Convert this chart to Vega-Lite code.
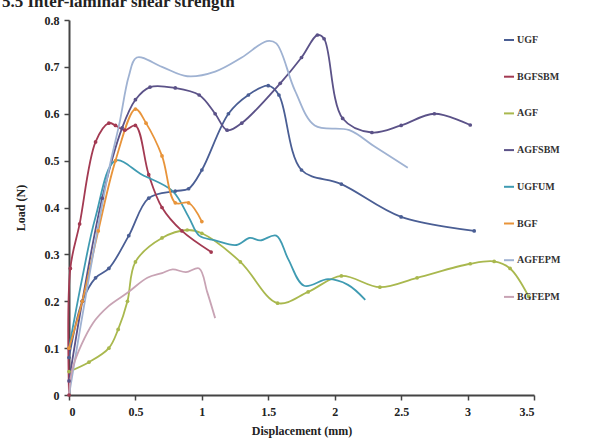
{
  "$schema": "https://vega.github.io/schema/vega-lite/v6.json",
  "width": 465,
  "height": 375,
  "autosize": {"type": "none"},
  "padding": {"left": 69, "top": 20, "right": 80, "bottom": 53},
  "background": "white",
  "title": {"text": "5.5 Inter-laminar shear strength", "anchor": "start", "frame": "group", "dx": -67, "dy": -3, "font": "Liberation Serif", "fontSize": 17, "fontWeight": "bold", "color": "#222", "offset": 0},
  "config": {
    "view": {"stroke": null},
    "font": "Liberation Serif",
    "axis": {"grid": false, "domainColor": "#444", "domainWidth": 2, "tickColor": "#444", "tickWidth": 1.5, "tickSize": 5, "labelFont": "Liberation Serif", "labelFontWeight": "bold", "labelFontSize": 12, "labelColor": "#222", "titleFont": "Liberation Serif", "titleFontWeight": "bold", "titleFontSize": 12, "titleColor": "#222"}
  },
  "data": {"values": [
    {"s":"UGF","x":0,"y":0.08},{"s":"UGF","x":0.1,"y":0.2},{"s":"UGF","x":0.2,"y":0.25},{"s":"UGF","x":0.3,"y":0.27},{"s":"UGF","x":0.45,"y":0.34},{"s":"UGF","x":0.6,"y":0.42},{"s":"UGF","x":0.8,"y":0.435},{"s":"UGF","x":0.9,"y":0.44},{"s":"UGF","x":1.0,"y":0.48},{"s":"UGF","x":1.2,"y":0.6},{"s":"UGF","x":1.35,"y":0.64},{"s":"UGF","x":1.5,"y":0.66},{"s":"UGF","x":1.58,"y":0.64},{"s":"UGF","x":1.75,"y":0.48},{"s":"UGF","x":2.05,"y":0.45},{"s":"UGF","x":2.5,"y":0.38},{"s":"UGF","x":3.05,"y":0.35},
    {"s":"BGFSBM","x":0,"y":0.0},{"s":"BGFSBM","x":0.01,"y":0.27},{"s":"BGFSBM","x":0.08,"y":0.365},{"s":"BGFSBM","x":0.2,"y":0.54},{"s":"BGFSBM","x":0.3,"y":0.58},{"s":"BGFSBM","x":0.35,"y":0.575},{"s":"BGFSBM","x":0.42,"y":0.565},{"s":"BGFSBM","x":0.5,"y":0.575},{"s":"BGFSBM","x":0.6,"y":0.47},{"s":"BGFSBM","x":0.7,"y":0.4},{"s":"BGFSBM","x":0.85,"y":0.35},{"s":"BGFSBM","x":1.07,"y":0.305},
    {"s":"AGF","x":0,"y":0.05},{"s":"AGF","x":0.15,"y":0.07},{"s":"AGF","x":0.3,"y":0.1},{"s":"AGF","x":0.37,"y":0.14},{"s":"AGF","x":0.44,"y":0.2},{"s":"AGF","x":0.5,"y":0.284},{"s":"AGF","x":0.7,"y":0.335},{"s":"AGF","x":0.89,"y":0.352},{"s":"AGF","x":1.0,"y":0.345},{"s":"AGF","x":1.29,"y":0.284},{"s":"AGF","x":1.57,"y":0.196},{"s":"AGF","x":1.8,"y":0.22},{"s":"AGF","x":2.05,"y":0.254},{"s":"AGF","x":2.34,"y":0.23},{"s":"AGF","x":2.62,"y":0.25},{"s":"AGF","x":3.02,"y":0.28},{"s":"AGF","x":3.2,"y":0.285},{"s":"AGF","x":3.32,"y":0.27},{"s":"AGF","x":3.46,"y":0.21},
    {"s":"AGFSBM","x":0,"y":0.03},{"s":"AGFSBM","x":0.1,"y":0.2},{"s":"AGFSBM","x":0.25,"y":0.42},{"s":"AGFSBM","x":0.4,"y":0.57},{"s":"AGFSBM","x":0.5,"y":0.63},{"s":"AGFSBM","x":0.61,"y":0.657},{"s":"AGFSBM","x":0.8,"y":0.655},{"s":"AGFSBM","x":0.98,"y":0.64},{"s":"AGFSBM","x":1.1,"y":0.6},{"s":"AGFSBM","x":1.19,"y":0.565},{"s":"AGFSBM","x":1.3,"y":0.58},{"s":"AGFSBM","x":1.59,"y":0.665},{"s":"AGFSBM","x":1.75,"y":0.72},{"s":"AGFSBM","x":1.87,"y":0.768},{"s":"AGFSBM","x":1.92,"y":0.76},{"s":"AGFSBM","x":2.06,"y":0.59},{"s":"AGFSBM","x":2.28,"y":0.56},{"s":"AGFSBM","x":2.5,"y":0.575},{"s":"AGFSBM","x":2.75,"y":0.6},{"s":"AGFSBM","x":3.02,"y":0.576},
    {"s":"UGFUM","x":0,"y":0.1},{"s":"UGFUM","x":0.1,"y":0.25},{"s":"UGFUM","x":0.2,"y":0.38},{"s":"UGFUM","x":0.35,"y":0.5},{"s":"UGFUM","x":0.55,"y":0.47},{"s":"UGFUM","x":0.78,"y":0.435},{"s":"UGFUM","x":0.9,"y":0.38},{"s":"UGFUM","x":0.98,"y":0.34},{"s":"UGFUM","x":1.1,"y":0.33},{"s":"UGFUM","x":1.26,"y":0.32},{"s":"UGFUM","x":1.36,"y":0.335},{"s":"UGFUM","x":1.44,"y":0.33},{"s":"UGFUM","x":1.56,"y":0.34},{"s":"UGFUM","x":1.65,"y":0.29},{"s":"UGFUM","x":1.77,"y":0.233},{"s":"UGFUM","x":1.95,"y":0.247},{"s":"UGFUM","x":2.1,"y":0.235},{"s":"UGFUM","x":2.23,"y":0.203},
    {"s":"BGF","x":0,"y":0.1},{"s":"BGF","x":0.1,"y":0.2},{"s":"BGF","x":0.22,"y":0.35},{"s":"BGF","x":0.35,"y":0.5},{"s":"BGF","x":0.5,"y":0.61},{"s":"BGF","x":0.58,"y":0.58},{"s":"BGF","x":0.7,"y":0.51},{"s":"BGF","x":0.8,"y":0.41},{"s":"BGF","x":0.9,"y":0.41},{"s":"BGF","x":1.0,"y":0.37},
    {"s":"AGFEPM","x":0,"y":0},{"s":"AGFEPM","x":0.15,"y":0.25},{"s":"AGFEPM","x":0.3,"y":0.48},{"s":"AGFEPM","x":0.38,"y":0.58},{"s":"AGFEPM","x":0.45,"y":0.68},{"s":"AGFEPM","x":0.51,"y":0.72},{"s":"AGFEPM","x":0.7,"y":0.7},{"s":"AGFEPM","x":0.89,"y":0.68},{"s":"AGFEPM","x":1.1,"y":0.69},{"s":"AGFEPM","x":1.3,"y":0.72},{"s":"AGFEPM","x":1.49,"y":0.755},{"s":"AGFEPM","x":1.56,"y":0.75},{"s":"AGFEPM","x":1.7,"y":0.65},{"s":"AGFEPM","x":1.85,"y":0.575},{"s":"AGFEPM","x":2.11,"y":0.565},{"s":"AGFEPM","x":2.3,"y":0.53},{"s":"AGFEPM","x":2.55,"y":0.485},
    {"s":"BGFEPM","x":0,"y":0},{"s":"BGFEPM","x":0.03,"y":0.06},{"s":"BGFEPM","x":0.18,"y":0.153},{"s":"BGFEPM","x":0.3,"y":0.19},{"s":"BGFEPM","x":0.44,"y":0.218},{"s":"BGFEPM","x":0.59,"y":0.25},{"s":"BGFEPM","x":0.7,"y":0.26},{"s":"BGFEPM","x":0.78,"y":0.268},{"s":"BGFEPM","x":0.88,"y":0.262},{"s":"BGFEPM","x":0.98,"y":0.27},{"s":"BGFEPM","x":1.04,"y":0.22},{"s":"BGFEPM","x":1.1,"y":0.164}
  ]},
  "encoding": {
    "x": {"field": "x", "type": "quantitative", "title": "Displacement (mm)", "scale": {"domain": [0, 3.5], "nice": false}, "axis": {"values": [0,0.5,1,1.5,2,2.5,3,3.5], "labelExpr": "datum.value", "titlePadding": 8, "labelPadding": 6}},
    "y": {"field": "y", "type": "quantitative", "title": "Load (N)", "scale": {"domain": [0, 0.8], "nice": false}, "axis": {"values": [0,0.1,0.2,0.3,0.4,0.5,0.6,0.7,0.8], "labelExpr": "datum.value", "labelPadding": 5, "titlePadding": 17}},
    "color": {"field": "s", "type": "nominal", "title": null,
      "scale": {"domain": ["UGF","BGFSBM","AGF","AGFSBM","UGFUM","BGF","AGFEPM","BGFEPM"], "range": ["#4a5e94","#a33a52","#a9b84e","#5b5288","#3f9bb2","#e8943a","#9fb2d2","#c8a3b4"]},
      "legend": {"orient": "none", "legendX": 434, "legendY": 14, "symbolType": "stroke", "symbolStrokeWidth": 2, "symbolSize": 100, "rowPadding": 25.7, "labelFont": "Liberation Serif", "labelFontWeight": "bold", "labelFontSize": 10, "labelColor": "#333", "labelOffset": 2}}
  },
  "layer": [
    {"mark": {"type": "line", "interpolate": "catmull-rom", "strokeWidth": 1.8}},
    {"transform": [{"filter": "indexof(['UGF','BGFSBM','AGF','AGFSBM','BGF'], datum.s) >= 0"}], "mark": {"type": "point", "filled": true, "size": 14, "opacity": 1}}
  ]
}
